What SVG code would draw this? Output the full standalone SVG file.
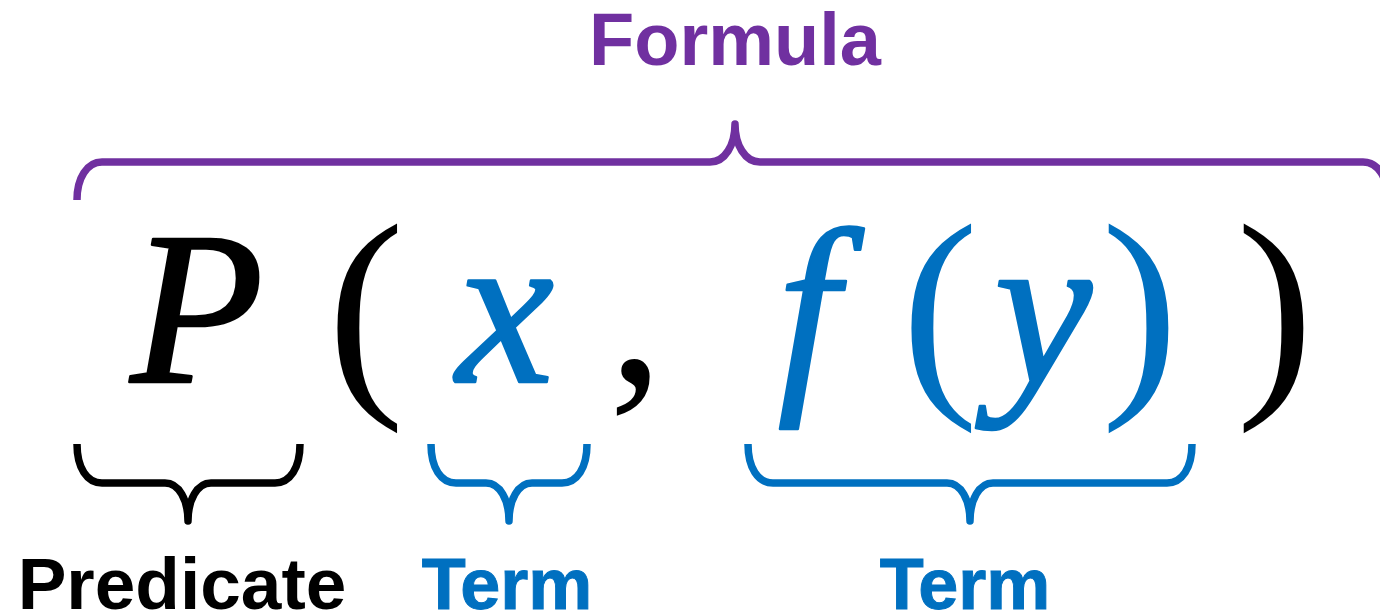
<svg xmlns="http://www.w3.org/2000/svg" width="1380" height="616" viewBox="0 0 1380 616">
<style>
.lbl{font-family:"Liberation Sans",Arial,sans-serif;font-weight:bold;text-anchor:middle}
.math{font-family:"Liberation Serif","Times New Roman",serif;font-style:italic;text-anchor:middle;stroke-width:2.5;stroke-linejoin:round}
.par{font-family:"Liberation Serif","Times New Roman",serif;text-anchor:middle}
.brace{fill:none;stroke-width:7.5;stroke-linejoin:round;stroke-linecap:butt}
.purple{fill:#7030A0}
.blue{fill:#0070C0;stroke:#0070C0}
.par.blue{stroke:none}
.black{fill:#000000}
.math.black{stroke:#000000}
</style>
<rect width="1380" height="616" fill="#ffffff"/>
<g id="formula-label">
<text class="lbl purple" x="735" y="65" font-size="74">Formula</text>
</g>
<g id="expression">
<text class="math black" x="197" y="382" font-size="218">P</text>
<text class="par black" x="366" y="384" font-size="232">(</text>
<text class="math blue" x="505" y="382" font-size="220">x</text>
<text class="par black" x="636" y="382" font-size="220">,</text>
<text class="math blue" x="808" y="382" font-size="220">f</text>
<text class="par blue" x="940" y="384" font-size="232">(</text>
<text class="math blue" x="1043" y="382" font-size="220">y</text>
<text class="par blue" x="1140" y="384" font-size="232">)</text>
<text class="par black" x="1275" y="384" font-size="232">)</text>
</g>
<g id="connectors">
<path id="formula-brace" class="brace" stroke="#7030A0" d="M77,200 C77,178 87,162 102,162 L710,162 C725,162 735,145 735,124 C735,145 745,162 760,162 L1363,162 C1378,162 1388,178 1388,200"/>
<path id="predicate-brace" class="brace" stroke="#000000" d="M77,444 C77,468 87,483 102,483 L165,483 C179,483 188,500 188,521 C188,500 197,483 211,483 L275,483 C290,483 300,468 300,444"/>
<path id="term-x-brace" class="brace" stroke="#0070C0" d="M431,444 C431,468 441,483 456,483 L486,483 C500,483 509,500 509,521 C509,500 518,483 532,483 L562,483 C577,483 587,468 587,444"/>
<path id="term-fy-brace" class="brace" stroke="#0070C0" d="M748,444 C748,468 758,483 773,483 L947,483 C961,483 970,500 970,521 C970,500 979,483 993,483 L1167,483 C1182,483 1192,468 1192,444"/>
</g>
<g id="predicate-label">
<text class="lbl black" x="182" y="609" font-size="73">Predicate</text>
</g>
<g id="term-x-label">
<text class="lbl blue" x="507" y="609" font-size="72" stroke="none">Term</text>
</g>
<g id="term-fy-label">
<text class="lbl blue" x="965" y="609" font-size="72" stroke="none">Term</text>
</g>
</svg>
